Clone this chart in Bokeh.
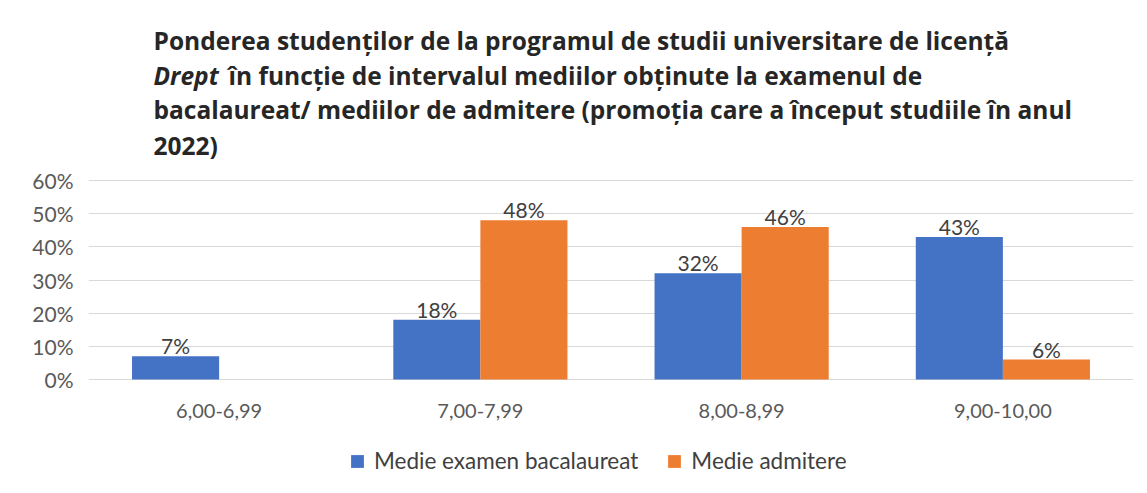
from bokeh.plotting import figure
from bokeh.models import (ColumnDataSource, FactorRange, Range1d, FixedTicker,
                          NumeralTickFormatter, Label, Legend, LegendItem)
from bokeh.transform import dodge
from bokeh.core.properties import value
from bokeh.embed import file_html
from bokeh.resources import INLINE

# ---- data ----
categories = ["6,00-6,99", "7,00-7,99", "8,00-8,99", "9,00-10,00"]
bacalaureat = [0.07, 0.18, 0.32, 0.43]
admitere = [0.0, 0.48, 0.46, 0.06]
series_names = ["Medie examen bacalaureat", "Medie admitere"]
title_lines = [
    "Ponderea studenților de la programul de studii universitare de licență",
    "în funcție de intervalul mediilor obținute la examenul de",
    "bacalaureat/ mediilor de admitere (promoția care a început studiile în anul",
    "2022)",
]
title_italic = "Drept"
y_ticks = [0.0, 0.1, 0.2, 0.3, 0.4, 0.5, 0.6]

FONT = "Lato"
TFONT = "Open Sans"
BLUE = "#4472C4"
ORANGE = "#ED7D31"

# layout (pixels): canvas 1139x485, frame spans the full height
W, H = 1139, 485
LEFT, RIGHT = 88, 6
GRID_TOP, GRID_BOTTOM = 180, 379          # pixel rows of the 60% and 0% lines
ppu = (GRID_BOTTOM - GRID_TOP) / 0.6      # pixels per unit
y_max = 0.6 + GRID_TOP / ppu
y_min = -(H - GRID_BOTTOM) / ppu

src = ColumnDataSource(dict(cat=categories, bac=bacalaureat, adm=admitere))

def lbl_source(vals):
    xs = [c for c, v in zip(categories, vals) if v > 0]
    ys = [v for v in vals if v > 0]
    ts = ["%d%%" % round(v * 100) for v in ys]
    return ColumnDataSource(dict(cat=xs, v=ys, t=ts))

p = figure(width=W, height=H, x_range=FactorRange(*categories),
           y_range=Range1d(y_min, y_max), output_backend="svg",
           toolbar_location=None,
           min_border_left=LEFT, min_border_right=RIGHT, min_border_top=0,
           min_border_bottom=0)

p.outline_line_color = None
p.xgrid.grid_line_color = None
p.ygrid.grid_line_color = "#d9d9d9"
p.ygrid.grid_line_width = 1
p.yaxis.ticker = FixedTicker(ticks=y_ticks)
p.yaxis.formatter = NumeralTickFormatter(format="0%")
p.xaxis.visible = False

ax = p.yaxis[0]
ax.axis_line_color = None
ax.major_tick_line_color = None
ax.minor_tick_line_color = None
ax.major_tick_out = 0
ax.major_tick_in = 0
ax.major_label_text_font = FONT
ax.major_label_text_color = "#595959"
ax.major_label_text_font_size = "21px"
ax.major_label_standoff = 15

w = 1 / 3
r1 = p.vbar(x=dodge("cat", -w / 2, range=p.x_range), top="bac", width=w,
            source=src, fill_color=BLUE, line_color=None)
r2 = p.vbar(x=dodge("cat", w / 2, range=p.x_range), top="adm", width=w,
            source=src, fill_color=ORANGE, line_color=None)

# data labels
for vals, off in ((bacalaureat, -w / 2), (admitere, w / 2)):
    p.text(x=dodge("cat", off, range=p.x_range), y="v", text="t",
           source=lbl_source(vals), text_align="center",
           text_baseline="bottom", y_offset=2, text_font=value(FONT),
           text_font_size="21px", text_color="#404040")

# category labels under the 0% line
p.text(x=categories, y=[0] * len(categories), text=categories,
       text_align="center", text_baseline="middle", y_offset=31,
       text_font=value(FONT), text_font_size="20px", text_color="#595959")

# title lines (screen units, relative to the frame's bottom-left)
x0 = 65
base = [H - 40, H - 75, H - 109, H - 145]
TSIZE = "24.5px"
for i, line in enumerate(title_lines):
    xx = x0 + (75 if i == 1 else 0)
    p.add_layout(Label(x=xx, y=base[i], x_units="screen", y_units="screen",
                       text=line, text_font=TFONT, text_font_size=TSIZE,
                       text_font_style="bold", text_color="#262626",
                       text_baseline="alphabetic"))
p.add_layout(Label(x=x0, y=base[1], x_units="screen", y_units="screen",
                   text=title_italic, text_font=TFONT, text_font_size=TSIZE,
                   text_font_style="bold italic", text_color="#262626",
                   text_baseline="alphabetic"))

legend = Legend(items=[LegendItem(label=series_names[0], renderers=[r1]),
                       LegendItem(label=series_names[1], renderers=[r2])],
                orientation="horizontal", location=(261, 11),
                padding=0, margin=0, spacing=28, label_standoff=9,
                glyph_width=16, glyph_height=16,
                label_text_font=FONT, label_text_font_size="22.5px",
                label_text_color="#404040",
                border_line_color=None, background_fill_alpha=0)
p.add_layout(legend, "center")

open("out.html", "w").write(file_html(p, INLINE))
